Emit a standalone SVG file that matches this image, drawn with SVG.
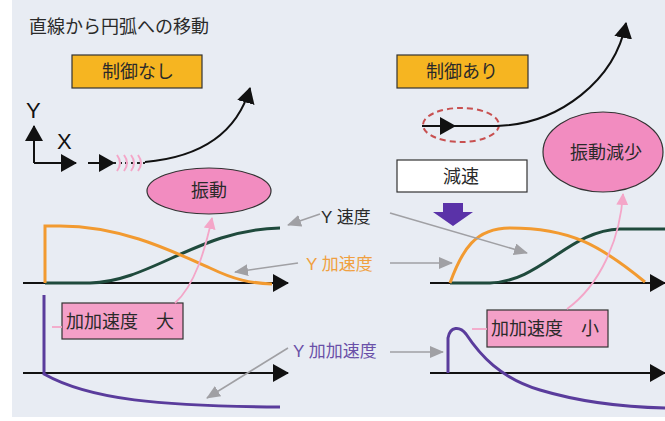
<svg xmlns="http://www.w3.org/2000/svg" width="665" height="421" viewBox="0 0 665 421">
<style>
.t{font-family:"Noto Sans CJK JP","Noto Sans",sans-serif;fill:#2a2a2a}
.lat{font-family:"Liberation Sans","Noto Sans CJK JP",sans-serif}
.box{stroke:#333;stroke-width:1.2}
.ax{stroke:#111;stroke-width:2;fill:none}
.gr{stroke:#a0a0a4;stroke-width:1.6;fill:none}
.pk{stroke:#f4a6c8;stroke-width:1.8;fill:none}
</style>
<defs>
<marker id="ab" markerUnits="userSpaceOnUse" markerWidth="16" markerHeight="18" refX="15" refY="9" orient="auto"><path d="M0,0 L16,9 L0,18 Z" fill="#111"/></marker>
<marker id="ag" markerUnits="userSpaceOnUse" markerWidth="14" markerHeight="12" refX="13" refY="6" orient="auto"><path d="M0,0 L14,6 L0,12 Z" fill="#a0a0a4"/></marker>
<marker id="ap" markerUnits="userSpaceOnUse" markerWidth="12" markerHeight="12" refX="11" refY="6" orient="auto"><path d="M0,0 L12,6 L0,12 Z" fill="#f4a6c8"/></marker>
</defs>
<rect width="665" height="421" fill="#fff"/>
<rect x="12" y="0" width="653" height="417" fill="#e8ecf3"/>

<text class="t" x="29" y="33" font-size="18">直線から円弧への移動</text>

<g id="no-control">
<rect class="box" x="72" y="55" width="130" height="33" fill="#f6b521"/>
<text class="t" x="138" y="78" font-size="18" text-anchor="middle">制御なし</text>
</g>
<g id="with-control">
<rect class="box" x="397" y="55" width="131" height="33" fill="#f6b521"/>
<text class="t" x="462" y="78" font-size="18" text-anchor="middle">制御あり</text>
</g>
<g id="decel">
<rect class="box" x="397" y="160" width="130" height="32" fill="#fff"/>
<text class="t" x="461" y="183" font-size="18" text-anchor="middle">減速</text>
</g>
<g id="vibration">
<ellipse cx="209" cy="191" rx="62" ry="23" fill="#f28cc0" stroke="#333" stroke-width="1.2"/>
<text class="t" x="209" y="197" font-size="18" text-anchor="middle">振動</text>
</g>
<g id="vibration-reduced">
<ellipse cx="603" cy="152" rx="60" ry="40" fill="#f28cc0" stroke="#333" stroke-width="1.2"/>
<text class="t" x="606" y="159" font-size="18" text-anchor="middle">振動減少</text>
</g>
<g id="jerk-large">
<rect class="box" x="62" y="303" width="121" height="36" fill="#f4a0c8"/>
<text class="t" x="66" y="328" font-size="18">加加速度　大</text>
</g>
<g id="jerk-small">
<rect class="box" x="487" y="310" width="121" height="37" fill="#f4a0c8"/>
<text class="t" x="491" y="335" font-size="18">加加速度　小</text>
</g>

<g id="labels">
<text class="t lat" x="321" y="223" font-size="17">Y <tspan class="t">速度</tspan></text>
<text class="lat" x="306" y="270" font-size="17" fill="#f0a040">Y <tspan font-family="Noto Sans CJK JP">加速度</tspan></text>
<text class="lat" x="293" y="357" font-size="17" fill="#6a50a8">Y <tspan font-family="Noto Sans CJK JP">加加速度</tspan></text>
<text class="lat" x="26" y="118" font-size="22" fill="#111">Y</text>
<text class="lat" x="57" y="149" font-size="22" fill="#111">X</text>
</g>

<g id="connectors">
<path class="ax" d="M34,163 V126" marker-end="url(#ab)"/>
<path class="ax" d="M34,163 H76" marker-end="url(#ab)"/>
<path class="ax" d="M88,163 H114" marker-end="url(#ab)"/>
<path d="M113,163 H145" stroke="#222" stroke-width="2" stroke-dasharray="3,3" fill="none"/>
<path d="M117,155 Q123,163 117,171 M124,155 Q130,163 124,171 M131,155 Q137,163 131,171 M138,155 Q144,163 138,171" stroke="#f4a6c8" stroke-width="2" fill="none"/>
<path class="ax" d="M145,162 C190,158 235,140 250,88" marker-end="url(#ab)"/>
<ellipse cx="461" cy="125" rx="38" ry="17" fill="none" stroke="#c85050" stroke-width="2" stroke-dasharray="6,4"/>
<path class="ax" d="M422,126 H455" marker-end="url(#ab)"/>
<path class="ax" d="M453,126 H497 C560,124 615,80 626,23" marker-end="url(#ab)"/>
<path d="M443,203 H463 V212 H473 L453,226 L433,212 H443 Z" fill="#5a32a8"/>

<path class="ax" d="M23,283 H288" marker-end="url(#ab)"/>
<path d="M45,283 H90 C150,282 200,229 280,228" stroke="#1f4a3c" stroke-width="3" fill="none"/>
<path d="M45,283 V226 H60 C120,226 170,250 210,268 C235,280 250,283 272,284" stroke="#f29a30" stroke-width="3" fill="none"/>
<path class="ax" d="M23,373 H288" marker-end="url(#ab)"/>
<path d="M44,295 V374 C90,400 160,406 280,407" stroke="#5a3c9c" stroke-width="3" fill="none"/>
<path d="M52,327 H62" class="pk"/>
<path class="ax" d="M430,283 H665" marker-end="url(#ab)"/>
<path d="M450,283 H490 C540,282 570,230 620,229 H665" stroke="#1f4a3c" stroke-width="3" fill="none"/>
<path d="M450,283 C462,250 475,228 510,228 C570,228 600,245 645,282" stroke="#f29a30" stroke-width="3" fill="none"/>
<path class="ax" d="M430,373 H665" marker-end="url(#ab)"/>
<path d="M448,373 V338 C450,326 460,326 466,334 C480,355 500,378 540,390 C580,402 620,407 665,408" stroke="#5a3c9c" stroke-width="3" fill="none"/>
<path d="M472,329 H487" class="pk"/>

<path class="pk" d="M175,303 C195,285 205,250 212,218" marker-end="url(#ap)"/>
<path class="pk" d="M567,309 C600,285 620,240 623,194" marker-end="url(#ap)"/>

<path class="gr" d="M320,214 L288,225" marker-end="url(#ag)"/>
<path class="gr" d="M390,213 L527,253" marker-end="url(#ag)"/>
<path class="gr" d="M298,263 L235,272" marker-end="url(#ag)"/>
<path class="gr" d="M390,263 H452" marker-end="url(#ag)"/>
<path class="gr" d="M288,348 L207,398" marker-end="url(#ag)"/>
<path class="gr" d="M390,352 H443" marker-end="url(#ag)"/>
</g>
</svg>
